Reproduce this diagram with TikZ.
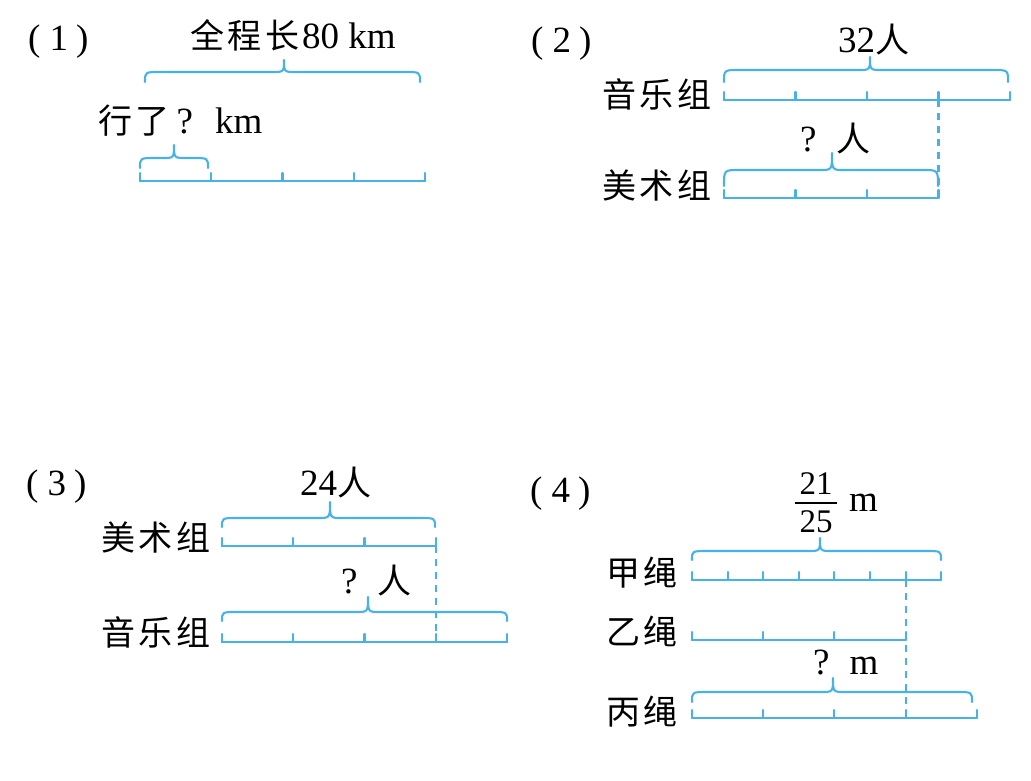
\documentclass[tikz,border=0pt]{standalone}
\usepackage{fontspec}
\setmainfont{Liberation Serif}
\newfontfamily\cjk{Noto Sans CJK SC}[Scale=0.92,LetterSpace=10]
\definecolor{lb}{RGB}{70,178,232}
\newcommand\mybar[4]{\draw[bl] (#1,#2) -- ({#1+#3*#4},#2);
  \foreach \i in {0,...,#4}{\draw[bl] ({#1+#3*\i},#2) -- ({#1+#3*\i},{#2-8});}}
\newcommand\mybrace[6]{\draw[bl] (#1,#4) .. controls (#1,#5) .. ({#1+15},#5) -- ({#2-12},#5) .. controls (#2,#5) .. (#2,#6) .. controls (#2,#5) .. ({#2+12},#5) -- ({#3-15},#5) .. controls (#3,#5) .. (#3,#4);}
\begin{document}
\begin{tikzpicture}[x=1pt,y=-1pt,
  bl/.style={draw=lb,line width=2.1pt,line cap=round,line join=round},
  dsh/.style={draw=lb,line width=2.1pt,dash pattern=on 7pt off 6pt},
  tx/.style={inner sep=0pt,font=\fontsize{37}{40}\selectfont},
  fr/.style={inner sep=0pt,font=\fontsize{33}{36}\selectfont}]
\useasboundingbox (0,0) rectangle (1031,780);
% ---------- panel 1
\mybar{140}{181}{71.25}{4}
\mybrace{145}{284}{420}{82}{72}{60}
\mybrace{140}{174}{208}{168}{158}{145}
\node[tx,anchor=base west] (p1) at (28,50) {(\hspace{9pt}1\hspace{8pt})};
\node[tx,anchor=base west] (t1) at (190,48) {{\cjk 全程长}\hspace{3pt}80 km};
\node[tx,anchor=base west] (q1) at (98,133) {{\cjk 行了}\hspace{7pt}?\hspace{22pt}km};
% ---------- panel 2
\mybar{724}{100}{71.5}{4}
\mybar{724}{198}{71.5}{3}
\draw[dsh] (938.5,100) -- (938.5,198);
\mybrace{724}{870}{1008}{82}{70}{57}
\mybrace{724}{832}{938}{186}{170}{153}
\node[tx,anchor=base west] (p2) at (531,52) {(\hspace{9pt}2\hspace{8pt})};
\node[tx,anchor=base west] (t2) at (838,52) {32{\cjk 人}};
\node[tx] (g2a) at (657,94) {\cjk 音乐组};
\node[tx] (g2b) at (657,185) {\cjk 美术组};
\node[tx,anchor=base west] (q2) at (800,151) {?\hspace{20pt}{\cjk 人}};
% ---------- panel 3
\mybar{222}{546}{71.25}{3}
\mybar{222}{642}{71.25}{4}
\draw[dsh] (435.75,546) -- (435.75,642);
\mybrace{222}{330}{435}{527}{518}{502}
\mybrace{222}{368}{507}{621}{612}{597}
\node[tx,anchor=base west] (p3) at (26,495) {(\hspace{9pt}3\hspace{8pt})};
\node[tx,anchor=base west] (t3) at (300,495) {24{\cjk 人}};
\node[tx] (g3a) at (156,537) {\cjk 美术组};
\node[tx] (g3b) at (156,632) {\cjk 音乐组};
\node[tx,anchor=base west] (q3) at (341,593) {?\hspace{20pt}{\cjk 人}};
% ---------- panel 4
\mybar{692}{580}{35.6}{7}
\mybar{692}{640}{71.2}{3}
\mybar{692}{718}{71.2}{4}
\draw[dsh] (905.6,580) -- (905.6,705);
\mybrace{692}{820}{941}{560}{551}{538}
\mybrace{692}{833}{972}{702}{692}{678}
\node[tx,anchor=base west] (p4) at (530,502) {(\hspace{9pt}4\hspace{8pt})};
\node[fr,anchor=base] (n4) at (816,494) {21};
\node[fr,anchor=base] (d4) at (816,532) {25};
\coordinate (fl) at (795,503);
\coordinate (fr) at (837,503);
\draw[line width=1.8pt] (fl) -- (fr);
\node[tx,anchor=base west] (m4) at (849,511) {m};
\node[tx] (g4a) at (642,573) {\cjk 甲绳};
\node[tx] (g4b) at (642,631) {\cjk 乙绳};
\node[tx] (g4c) at (642,712) {\cjk 丙绳};
\node[tx,anchor=base west] (q4) at (813,674) {?\hspace{20pt}m};
\end{tikzpicture}
\end{document}
